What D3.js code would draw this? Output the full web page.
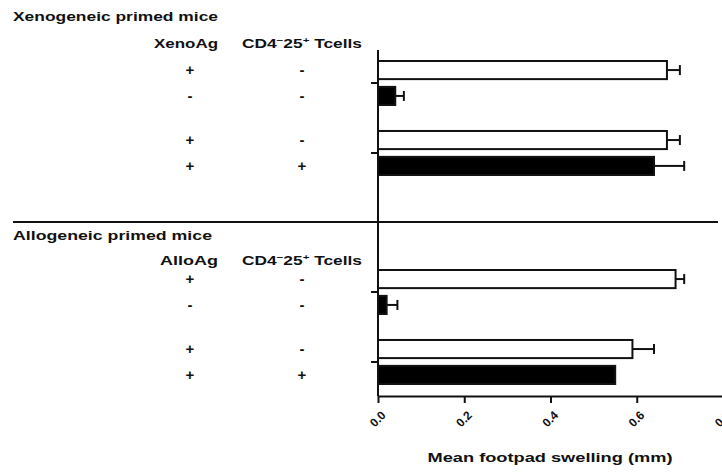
<!DOCTYPE html>
<html>
<head>
<meta charset="utf-8">
<script src="https://cdn.jsdelivr.net/npm/d3@7"></script>
<style>
  body { margin: 0; background: #fff; }
  text { font-family: "Liberation Sans", Arial, sans-serif; font-weight: bold; fill: #111; }
</style>
</head>
<body>
<div id="chart"></div>
<script>
let width = 722, height = 472;

/// data
let groupTitles = ['Xenogeneic primed mice', 'Allogeneic primed mice'];
let antigenNames = ['XenoAg', 'AlloAg'];
let antigenSigns = ['+', '-', '+', '+'];
let cellSigns = ['-', '-', '-', '+'];
let barFills = ['white', 'black', 'white', 'black'];
let xenoMeans = [0.67, 0.04, 0.67, 0.64];
let xenoErrors = [0.03, 0.02, 0.03, 0.07];
let alloMeans = [0.69, 0.02, 0.59, 0.55];
let alloErrors = [0.02, 0.025, 0.05, 0];
let xTicks = [0, 0.2, 0.4, 0.6, 0.8];

let svg = d3.select('#chart').append('svg')
  .attr('width', width).attr('height', height);

let x = d3.scaleLinear().domain([0, 0.8]).range([378, 723]);

/// pair bands (one per condition pair) and inner bands (white/black bar)
let inner = d3.scaleBand().domain([0, 1]).range([0, 44]).paddingInner(0.3);

let groups = [
  { title: groupTitles[0], ag: antigenNames[0], means: xenoMeans, errs: xenoErrors,
    y: d3.scaleBand().domain([0, 1]).range([61, 175]).paddingInner(0.371),
    titleY: 21, headY: 48, titleLen: 205, agLen: 64 },
  { title: groupTitles[1], ag: antigenNames[1], means: alloMeans, errs: alloErrors,
    y: d3.scaleBand().domain([0, 1]).range([270, 384]).paddingInner(0.371),
    titleY: 240, headY: 265, titleLen: 199, agLen: 58 }
];

function barY(g, i) { return g.y(Math.floor(i / 2)) + inner(i % 2); }

groups.forEach(function(g) {
  let rows = g.means.map(function(m, i) {
    return { mean: m, err: g.errs[i], fill: barFills[i], ag: antigenSigns[i], cell: cellSigns[i], i: i };
  });

  svg.append('text').attr('x', 13).attr('y', g.titleY)
    .attr('font-size', 13).attr('textLength', g.titleLen)
    .attr('lengthAdjust', 'spacingAndGlyphs').text(g.title);

  svg.append('text').attr('x', 218).attr('y', g.headY).attr('text-anchor', 'end')
    .attr('font-size', 13).attr('textLength', g.agLen)
    .attr('lengthAdjust', 'spacingAndGlyphs').text(g.ag);

  let head = svg.append('text').attr('x', 242).attr('y', g.headY)
    .attr('font-size', 12).attr('textLength', 120).attr('lengthAdjust', 'spacingAndGlyphs');
  head.append('tspan').text('CD4');
  head.append('tspan').attr('font-size', 8).attr('dy', -5).text('−');
  head.append('tspan').attr('dy', 5).text('25');
  head.append('tspan').attr('font-size', 8).attr('dy', -5).text('+');
  head.append('tspan').attr('dy', 5).text(' Tcells');

  /// sign columns
  let cy = function(d) { return barY(g, d.i) + inner.bandwidth() / 2 + 5; };
  svg.selectAll(null).data(rows).enter().append('text')
    .attr('x', 190).attr('y', cy).attr('text-anchor', 'middle').attr('font-size', 15)
    .text(function(d) { return d.ag; });
  svg.selectAll(null).data(rows).enter().append('text')
    .attr('x', 302).attr('y', cy).attr('text-anchor', 'middle').attr('font-size', 15)
    .text(function(d) { return d.cell; });

  /// bars
  svg.selectAll(null).data(rows).enter().append('rect')
    .attr('x', x(0)).attr('y', function(d) { return barY(g, d.i); })
    .attr('width', function(d) { return x(d.mean) - x(0); })
    .attr('height', inner.bandwidth())
    .attr('fill', function(d) { return d.fill; })
    .attr('stroke', '#111').attr('stroke-width', 2);

  /// error bars
  let eb = svg.selectAll(null).data(rows.filter(function(d) { return d.err > 0; }))
    .enter().append('g').attr('stroke', '#111').attr('stroke-width', 2);
  eb.append('line')
    .attr('x1', function(d) { return x(d.mean); })
    .attr('x2', function(d) { return x(d.mean + d.err); })
    .attr('y1', function(d) { return barY(g, d.i) + inner.bandwidth() / 2; })
    .attr('y2', function(d) { return barY(g, d.i) + inner.bandwidth() / 2; });
  eb.append('line')
    .attr('x1', function(d) { return x(d.mean + d.err); })
    .attr('x2', function(d) { return x(d.mean + d.err); })
    .attr('y1', function(d) { return barY(g, d.i) + inner.bandwidth() / 2 - 5; })
    .attr('y2', function(d) { return barY(g, d.i) + inner.bandwidth() / 2 + 5; });

  /// y ticks at pair centres
  svg.selectAll(null).data(g.y.domain()).enter().append('line')
    .attr('x1', x(0) - 7).attr('x2', x(0))
    .attr('y1', function(d) { return g.y(d) + g.y.bandwidth() / 2; })
    .attr('y2', function(d) { return g.y(d) + g.y.bandwidth() / 2; })
    .attr('stroke', '#111').attr('stroke-width', 2);
});

/// separator between the two experiments
svg.append('line').attr('x1', 13).attr('x2', 718).attr('y1', 222).attr('y2', 222)
  .attr('stroke', '#111').attr('stroke-width', 2);

/// vertical axis line
svg.append('line').attr('x1', x(0)).attr('x2', x(0)).attr('y1', 50).attr('y2', 396)
  .attr('stroke', '#111').attr('stroke-width', 2);

/// x axis
let xAxis = svg.append('g').attr('transform', 'translate(0,396)')
  .call(d3.axisBottom(x).tickValues(xTicks).tickFormat(d3.format('.1f')).tickSize(7).tickSizeOuter(0));
xAxis.select('.domain').attr('stroke', '#111').attr('stroke-width', 2);
xAxis.selectAll('.tick line').attr('stroke', '#111').attr('stroke-width', 2);
xAxis.selectAll('.tick text')
  .attr('font-size', 12).attr('font-weight', 'bold').attr('fill', '#111')
  .attr('x', 0).attr('y', 0).attr('dy', '0.35em')
  .attr('text-anchor', 'end')
  .attr('transform', 'translate(5,17) rotate(-45)');

svg.append('text').attr('x', 550).attr('y', 462).attr('text-anchor', 'middle')
  .attr('font-size', 13).attr('textLength', 245).attr('lengthAdjust', 'spacingAndGlyphs')
  .text('Mean footpad swelling (mm)');
</script>
</body>
</html>
